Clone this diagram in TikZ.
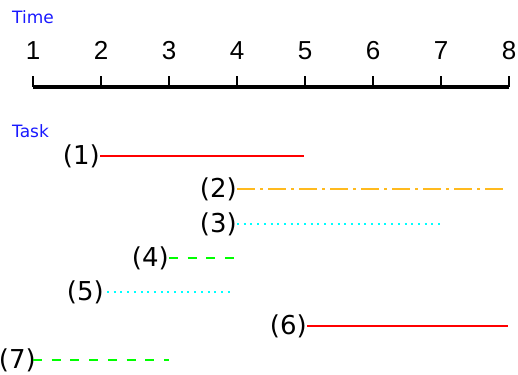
\documentclass[tikz,border=0pt]{standalone}
\usepackage{fontspec}
\setmainfont{DejaVu Sans}
\newfontfamily\axisfont{Liberation Sans}
\definecolor{taskred}{RGB}{255,0,0}
\definecolor{taskorange}{RGB}{255,186,30}
\definecolor{taskcyan}{RGB}{0,255,255}
\definecolor{taskgreen}{RGB}{0,255,0}
\definecolor{headblue}{RGB}{25,25,255}
\begin{document}
\begin{tikzpicture}[x=1pt,y=-1pt,
  head/.style={text=headblue,font=\fontsize{17}{19}\selectfont,anchor=base west,inner sep=0pt},
  num/.style={font=\axisfont\fontsize{26}{29}\selectfont,anchor=base,inner sep=0pt},
  tasklabel/.style={font=\fontsize{26}{29}\selectfont,anchor=east,inner sep=0pt},
  axisline/.style={line width=3.5pt},
  tickline/.style={line width=2pt},
  solidbar/.style={taskred,line width=2.8pt},
  dashdotbar/.style={taskorange,line width=2.8pt,dash pattern=on 18pt off 5pt on 3pt off 5pt},
  dotbar/.style={taskcyan,line width=2.8pt,dash pattern=on 2pt off 4.7pt},
  dashbar/.style={taskgreen,line width=2.8pt,dash pattern=on 9pt off 9.7pt}]
\useasboundingbox (0,0) rectangle (518,374);
% headings
\node[head] (time) at (12,24) {Time};
\node[head] (task) at (12,137) {Task};
% axis
\coordinate (a1) at (33,87);
\coordinate (a8) at (509,87);
\draw[axisline] (a1) -- (a8);
\foreach \i in {1,...,8}{
  \coordinate (t\i) at ({33+68*(\i-1)},87);
  \coordinate (u\i) at ({33+68*(\i-1)},76);
  \draw[tickline] (t\i) -- (u\i);
  \node[num] (n\i) at ({33+68*(\i-1)},60) {\i};
}
% tasks
\node[tasklabel] (l1) at (100,156) {(1)};
\coordinate (e1) at (304,156);
\draw[solidbar] (l1.east) -- (e1);

\node[tasklabel] (l2) at (237,189) {(2)};
\coordinate (e2) at (506,189);
\draw[dashdotbar] (l2.east) -- (e2);

\node[tasklabel] (l3) at (237,224) {(3)};
\coordinate (e3) at (441,224);
\draw[dotbar] (l3.east) -- (e3);

\node[tasklabel] (l4) at (169,258) {(4)};
\coordinate (e4) at (237,258);
\draw[dashbar] (l4.east) -- (e4);

\node[tasklabel] (l5) at (104,292) {(5)};
\coordinate (s5) at (107,292);
\coordinate (e5) at (234,292);
\draw[dotbar] (s5) -- (e5);

\node[tasklabel] (l6) at (307,326) {(6)};
\coordinate (e6) at (508,326);
\draw[solidbar] (l6.east) -- (e6);

\node[tasklabel] (l7) at (36,360) {(7)};
\coordinate (s7) at (33,360);
\coordinate (e7) at (169,360);
\draw[dashbar] (s7) -- (e7);
\end{tikzpicture}
\end{document}
